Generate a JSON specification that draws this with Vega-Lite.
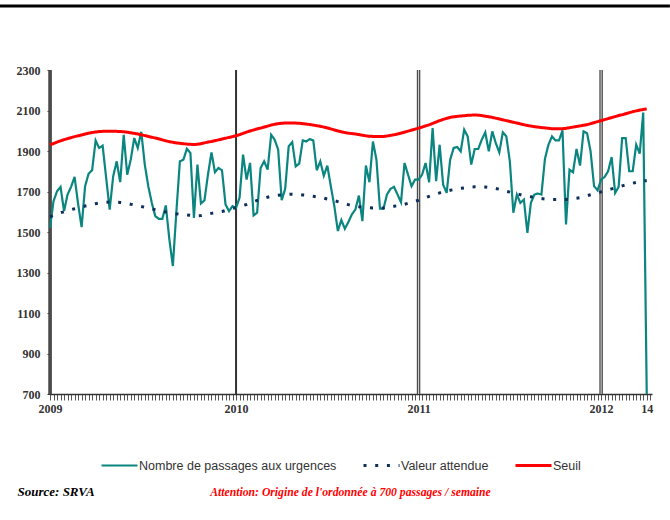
{
  "$schema": "https://vega.github.io/schema/vega-lite/v6.json",
  "width": 602,
  "height": 324,
  "autosize": {"type": "none"},
  "padding": {"left": 50, "top": 70, "right": 18, "bottom": 126},
  "background": "white",
  "config": {"view": {"stroke": null}, "font": "Liberation Sans", "axisX": {"labelOverlap": false, "labelBound": false, "labelFlush": false}},
  "resolve": {"axis": {"x": "independent", "y": "independent"}},
  "datasets": {
    "edge": [{"part": "top"}],
    "years": [{"t": 0}, {"t": 53}, {"t": 105}, {"t": 157}],
    "weeks": [
      {"t":0,"obs":1521,"exp":1575,"seuil":1931},{"t":1,"obs":1652,"exp":1582,"seuil":1937},{"t":2,"obs":1701,"exp":1588,"seuil":1944},{"t":3,"obs":1723,"exp":1595,"seuil":1950},{"t":4,"obs":1603,"exp":1600,"seuil":1956},{"t":5,"obs":1685,"exp":1605,"seuil":1961},{"t":6,"obs":1723,"exp":1610,"seuil":1966},{"t":7,"obs":1772,"exp":1615,"seuil":1971},{"t":8,"obs":1640,"exp":1620,"seuil":1975},{"t":9,"obs":1524,"exp":1624,"seuil":1979},
      {"t":10,"obs":1726,"exp":1628,"seuil":1984},{"t":11,"obs":1788,"exp":1632,"seuil":1988},{"t":12,"obs":1805,"exp":1636,"seuil":1991},{"t":13,"obs":1952,"exp":1640,"seuil":1994},{"t":14,"obs":1915,"exp":1643,"seuil":1996},{"t":15,"obs":1926,"exp":1645,"seuil":1997},{"t":16,"obs":1767,"exp":1647,"seuil":1998},{"t":17,"obs":1611,"exp":1648,"seuil":1998},{"t":18,"obs":1775,"exp":1648,"seuil":1998},{"t":19,"obs":1849,"exp":1647,"seuil":1997},
      {"t":20,"obs":1746,"exp":1646,"seuil":1996},{"t":21,"obs":1980,"exp":1644,"seuil":1995},{"t":22,"obs":1783,"exp":1641,"seuil":1993},{"t":23,"obs":1857,"exp":1637,"seuil":1990},{"t":24,"obs":1964,"exp":1634,"seuil":1987},{"t":25,"obs":1915,"exp":1630,"seuil":1984},{"t":26,"obs":1995,"exp":1626,"seuil":1980},{"t":27,"obs":1833,"exp":1622,"seuil":1976},{"t":28,"obs":1726,"exp":1618,"seuil":1972},{"t":29,"obs":1644,"exp":1614,"seuil":1968},
      {"t":30,"obs":1578,"exp":1610,"seuil":1964},{"t":31,"obs":1565,"exp":1606,"seuil":1960},{"t":32,"obs":1565,"exp":1602,"seuil":1955},{"t":33,"obs":1631,"exp":1599,"seuil":1950},{"t":34,"obs":1464,"exp":1596,"seuil":1946},{"t":35,"obs":1332,"exp":1593,"seuil":1943},{"t":36,"obs":1600,"exp":1590,"seuil":1940},{"t":37,"obs":1849,"exp":1588,"seuil":1938},{"t":38,"obs":1857,"exp":1586,"seuil":1936},{"t":39,"obs":1911,"exp":1584,"seuil":1934},
      {"t":40,"obs":1890,"exp":1582,"seuil":1933},{"t":41,"obs":1570,"exp":1581,"seuil":1932},{"t":42,"obs":1833,"exp":1580,"seuil":1933},{"t":43,"obs":1641,"exp":1581,"seuil":1936},{"t":44,"obs":1656,"exp":1584,"seuil":1940},{"t":45,"obs":1783,"exp":1588,"seuil":1944},{"t":46,"obs":1893,"exp":1592,"seuil":1947},{"t":47,"obs":1795,"exp":1595,"seuil":1951},{"t":48,"obs":1816,"exp":1598,"seuil":1955},{"t":49,"obs":1805,"exp":1601,"seuil":1959},
      {"t":50,"obs":1636,"exp":1606,"seuil":1963},{"t":51,"obs":1603,"exp":1611,"seuil":1967},{"t":52,"obs":1628,"exp":1616,"seuil":1971},{"t":53,"obs":1619,"exp":1620,"seuil":1975},{"t":54,"obs":1669,"exp":1626,"seuil":1981},{"t":55,"obs":1882,"exp":1631,"seuil":1987},{"t":56,"obs":1759,"exp":1636,"seuil":1993},{"t":57,"obs":1841,"exp":1643,"seuil":1999},{"t":58,"obs":1582,"exp":1650,"seuil":2004},{"t":59,"obs":1595,"exp":1656,"seuil":2009},
      {"t":60,"obs":1816,"exp":1662,"seuil":2013},{"t":61,"obs":1849,"exp":1667,"seuil":2018},{"t":62,"obs":1808,"exp":1672,"seuil":2023},{"t":63,"obs":1980,"exp":1676,"seuil":2028},{"t":64,"obs":1956,"exp":1679,"seuil":2032},{"t":65,"obs":1907,"exp":1681,"seuil":2035},{"t":66,"obs":1657,"exp":1683,"seuil":2037},{"t":67,"obs":1713,"exp":1685,"seuil":2038},{"t":68,"obs":1923,"exp":1686,"seuil":2038},{"t":69,"obs":1944,"exp":1687,"seuil":2038},
      {"t":70,"obs":1824,"exp":1686,"seuil":2038},{"t":71,"obs":1838,"exp":1685,"seuil":2037},{"t":72,"obs":1952,"exp":1683,"seuil":2035},{"t":73,"obs":1947,"exp":1681,"seuil":2033},{"t":74,"obs":1959,"exp":1678,"seuil":2031},{"t":75,"obs":1952,"exp":1676,"seuil":2028},{"t":76,"obs":1805,"exp":1673,"seuil":2025},{"t":77,"obs":1849,"exp":1670,"seuil":2022},{"t":78,"obs":1778,"exp":1667,"seuil":2018},{"t":79,"obs":1828,"exp":1663,"seuil":2014},
      {"t":80,"obs":1726,"exp":1659,"seuil":2009},{"t":81,"obs":1628,"exp":1655,"seuil":2004},{"t":82,"obs":1505,"exp":1650,"seuil":1999},{"t":83,"obs":1559,"exp":1645,"seuil":1995},{"t":84,"obs":1516,"exp":1640,"seuil":1991},{"t":85,"obs":1549,"exp":1635,"seuil":1988},{"t":86,"obs":1587,"exp":1631,"seuil":1986},{"t":87,"obs":1611,"exp":1628,"seuil":1984},{"t":88,"obs":1680,"exp":1625,"seuil":1981},{"t":89,"obs":1554,"exp":1623,"seuil":1978},
      {"t":90,"obs":1828,"exp":1621,"seuil":1975},{"t":91,"obs":1746,"exp":1620,"seuil":1973},{"t":92,"obs":1947,"exp":1619,"seuil":1972},{"t":93,"obs":1857,"exp":1619,"seuil":1972},{"t":94,"obs":1615,"exp":1619,"seuil":1972},{"t":95,"obs":1615,"exp":1619,"seuil":1972},{"t":96,"obs":1685,"exp":1621,"seuil":1974},{"t":97,"obs":1713,"exp":1624,"seuil":1977},{"t":98,"obs":1723,"exp":1627,"seuil":1980},{"t":99,"obs":1685,"exp":1630,"seuil":1984},
      {"t":100,"obs":1647,"exp":1633,"seuil":1988},{"t":101,"obs":1841,"exp":1637,"seuil":1993},{"t":102,"obs":1783,"exp":1642,"seuil":1998},{"t":103,"obs":1726,"exp":1647,"seuil":2003},{"t":104,"obs":1759,"exp":1652,"seuil":2008},{"t":105,"obs":1759,"exp":1657,"seuil":2013},{"t":106,"obs":1783,"exp":1664,"seuil":2018},{"t":107,"obs":1841,"exp":1670,"seuil":2024},{"t":108,"obs":1746,"exp":1676,"seuil":2029},{"t":109,"obs":2013,"exp":1682,"seuil":2036},
      {"t":110,"obs":1751,"exp":1688,"seuil":2043},{"t":111,"obs":1931,"exp":1693,"seuil":2050},{"t":112,"obs":1734,"exp":1698,"seuil":2056},{"t":113,"obs":1693,"exp":1702,"seuil":2061},{"t":114,"obs":1857,"exp":1706,"seuil":2066},{"t":115,"obs":1915,"exp":1709,"seuil":2069},{"t":116,"obs":1920,"exp":1713,"seuil":2071},{"t":117,"obs":1898,"exp":1716,"seuil":2073},{"t":118,"obs":2005,"exp":1718,"seuil":2074},{"t":119,"obs":1972,"exp":1720,"seuil":2076},
      {"t":120,"obs":1833,"exp":1722,"seuil":2077},{"t":121,"obs":1910,"exp":1723,"seuil":2078},{"t":122,"obs":1910,"exp":1723,"seuil":2077},{"t":123,"obs":1956,"exp":1723,"seuil":2075},{"t":124,"obs":1992,"exp":1722,"seuil":2072},{"t":125,"obs":1898,"exp":1720,"seuil":2069},{"t":126,"obs":1997,"exp":1718,"seuil":2066},{"t":127,"obs":1939,"exp":1715,"seuil":2062},{"t":128,"obs":1893,"exp":1711,"seuil":2058},{"t":129,"obs":1992,"exp":1706,"seuil":2054},
      {"t":130,"obs":1972,"exp":1701,"seuil":2050},{"t":131,"obs":1849,"exp":1697,"seuil":2046},{"t":132,"obs":1595,"exp":1692,"seuil":2042},{"t":133,"obs":1685,"exp":1688,"seuil":2038},{"t":134,"obs":1644,"exp":1684,"seuil":2034},{"t":135,"obs":1660,"exp":1680,"seuil":2030},{"t":136,"obs":1496,"exp":1677,"seuil":2026},{"t":137,"obs":1644,"exp":1674,"seuil":2023},{"t":138,"obs":1685,"exp":1671,"seuil":2020},{"t":139,"obs":1690,"exp":1668,"seuil":2018},
      {"t":140,"obs":1685,"exp":1665,"seuil":2016},{"t":141,"obs":1861,"exp":1663,"seuil":2014},{"t":142,"obs":1931,"exp":1661,"seuil":2012},{"t":143,"obs":1972,"exp":1660,"seuil":2010},{"t":144,"obs":1952,"exp":1660,"seuil":2010},{"t":145,"obs":1952,"exp":1660,"seuil":2010},{"t":146,"obs":2002,"exp":1660,"seuil":2010},{"t":147,"obs":1537,"exp":1661,"seuil":2012},{"t":148,"obs":1808,"exp":1663,"seuil":2015},{"t":149,"obs":1795,"exp":1665,"seuil":2018},
      {"t":150,"obs":1910,"exp":1667,"seuil":2021},{"t":151,"obs":1828,"exp":1670,"seuil":2024},{"t":152,"obs":1997,"exp":1674,"seuil":2027},{"t":153,"obs":1988,"exp":1679,"seuil":2030},{"t":154,"obs":1898,"exp":1684,"seuil":2035},{"t":155,"obs":1726,"exp":1688,"seuil":2040},{"t":156,"obs":1706,"exp":1693,"seuil":2045},{"t":157,"obs":1759,"exp":1698,"seuil":2050},{"t":158,"obs":1772,"exp":1703,"seuil":2055},{"t":159,"obs":1800,"exp":1708,"seuil":2060},
      {"t":160,"obs":1870,"exp":1713,"seuil":2065},{"t":161,"obs":1693,"exp":1718,"seuil":2070},{"t":162,"obs":1723,"exp":1723,"seuil":2075},{"t":163,"obs":1964,"exp":1728,"seuil":2079},{"t":164,"obs":1964,"exp":1732,"seuil":2084},{"t":165,"obs":1800,"exp":1736,"seuil":2089},{"t":166,"obs":1800,"exp":1741,"seuil":2094},{"t":167,"obs":1931,"exp":1745,"seuil":2098},{"t":168,"obs":1887,"exp":1748,"seuil":2102},{"t":169,"obs":2090,"exp":1751,"seuil":2105},
      {"t":170,"obs":700,"exp":1754,"seuil":2108}
    ]
  },
  "layer": [
    {
      "data": {"name": "edge"},
      "mark": {"type": "rule", "color": "#000000", "strokeWidth": 3, "clip": false},
      "encoding": {
        "x": {"datum": -14.25, "type": "quantitative", "axis": null},
        "x2": {"datum": 176.6},
        "y": {"datum": 2616, "type": "quantitative", "axis": null}
      }
    },
    {
      "data": {"name": "years"},
      "mark": {"type": "rule", "color": "#333333", "strokeWidth": 2},
      "encoding": {"x": {"field": "t", "type": "quantitative", "axis": null}}
    },
    {
      "data": {"name": "years"},
      "transform": [{"filter": "datum.t == 0 || datum.t == 105 || datum.t == 157"}],
      "mark": {"type": "rule", "color": "#4a4a4a", "strokeWidth": 3.5},
      "encoding": {"x": {"field": "t", "type": "quantitative", "axis": null}}
    },
    {
      "data": {"name": "years"},
      "transform": [{"filter": "datum.t == 105 || datum.t == 157"}],
      "mark": {"type": "rule", "color": "#d8d8d8", "strokeWidth": 1},
      "encoding": {"x": {"field": "t", "type": "quantitative", "axis": null}}
    },
    {
      "data": {"name": "weeks"},
      "transform": [{"fold": ["obs", "exp", "seuil"], "as": ["key", "value"]}],
      "mark": {"type": "line", "strokeCap": "butt", "clip": false},
      "encoding": {
        "x": {
          "field": "t", "type": "quantitative",
          "scale": {"domain": [0, 171.5], "nice": false, "zero": false},
          "axis": {
            "values": [0,1,2,3,4,5,6,7,8,9,10,11,12,13,14,15,16,17,18,19,20,21,22,23,24,25,26,27,28,29,30,31,32,33,34,35,36,37,38,39,40,41,42,43,44,45,46,47,48,49,50,51,52,53,54,55,56,57,58,59,60,61,62,63,64,65,66,67,68,69,70,71,72,73,74,75,76,77,78,79,80,81,82,83,84,85,86,87,88,89,90,91,92,93,94,95,96,97,98,99,100,101,102,103,104,105,106,107,108,109,110,111,112,113,114,115,116,117,118,119,120,121,122,123,124,125,126,127,128,129,130,131,132,133,134,135,136,137,138,139,140,141,142,143,144,145,146,147,148,149,150,151,152,153,154,155,156,157,158,159,160,161,162,163,164,165,166,167,168,169,170,171],
            "labelExpr": "datum.value == 0 ? '2009' : datum.value == 53 ? '2010' : datum.value == 105 ? '2011' : datum.value == 157 ? '2012' : datum.value == 170 ? '14' : ''",
            "labelOverlap": false, "labelFlush": false, "labelBound": false,
            "labelFont": "Liberation Serif", "labelFontWeight": "bold", "labelFontSize": 12, "labelColor": "#333333", "labelPadding": 3,
            "tickSize": 6, "tickColor": "#555555", "tickWidth": 1,
            "domainColor": "#333333", "domainWidth": 1.5, "grid": false,
            "title": "Attention: Origine de l'ordonnée à 700 passages / semaine",
            "titleX": 300, "titleY": 97, "titleAlign": "center", "titleBaseline": "middle",
            "titleColor": "#ff0000", "titleFont": "Liberation Serif", "titleFontStyle": "italic", "titleFontWeight": "bold", "titleFontSize": 11.7
          }
        },
        "y": {
          "field": "value", "type": "quantitative",
          "scale": {"domain": [700, 2300], "nice": false, "zero": false},
          "axis": {
            "values": [700, 900, 1100, 1300, 1500, 1700, 1900, 2100, 2300],
            "format": "d",
            "labelFont": "Liberation Serif", "labelFontWeight": "bold", "labelFontSize": 12, "labelColor": "#333333", "labelPadding": 7,
            "tickSize": 3, "tickColor": "#333333",
            "domainColor": "#333333", "domainWidth": 2, "grid": false,
            "title": "Source: SRVA",
            "titleAngle": 0, "titleX": -33, "titleY": 421, "titleAlign": "left", "titleBaseline": "middle",
            "titleColor": "#000000", "titleFont": "Liberation Serif", "titleFontStyle": "italic", "titleFontWeight": "bold", "titleFontSize": 13
          }
        },
        "color": {
          "field": "key", "type": "nominal",
          "scale": {"domain": ["obs", "exp", "seuil"], "range": ["#0b8580", "#0c2f5c", "#ff0000"]},
          "legend": {
            "orient": "none", "legendX": 50, "legendY": 376, "direction": "horizontal", "title": null, "padding": 0,
            "symbolType": "stroke", "symbolSize": 1296, "symbolStrokeWidth": 3,
            "labelFont": "Liberation Sans", "labelFontSize": 12.5, "labelColor": "#333333", "labelOffset": 0, "labelLimit": 300,
            "columnPadding": 20,
            "labelExpr": "datum.value == 'obs' ? 'Nombre de passages aux urgences' : datum.value == 'exp' ? 'Valeur attendue' : 'Seuil'"
          }
        },
        "strokeDash": {
          "field": "key", "type": "nominal",
          "scale": {"domain": ["obs", "exp", "seuil"], "range": [[1, 0], [3, 8.7], [1, 0]]},
          "legend": {
            "orient": "none", "legendX": 50, "legendY": 376, "direction": "horizontal", "title": null, "padding": 0,
            "symbolType": "stroke", "symbolSize": 1296, "symbolStrokeWidth": 3,
            "labelFont": "Liberation Sans", "labelFontSize": 12.5, "labelColor": "#333333", "labelOffset": 0, "labelLimit": 300,
            "columnPadding": 20,
            "labelExpr": "datum.value == 'obs' ? 'Nombre de passages aux urgences' : datum.value == 'exp' ? 'Valeur attendue' : 'Seuil'"
          }
        },
        "strokeWidth": {
          "field": "key", "type": "nominal",
          "scale": {"type": "ordinal", "domain": ["obs", "exp", "seuil"], "range": [2.2, 3, 3]},
          "legend": null
        }
      }
    }
  ]
}
